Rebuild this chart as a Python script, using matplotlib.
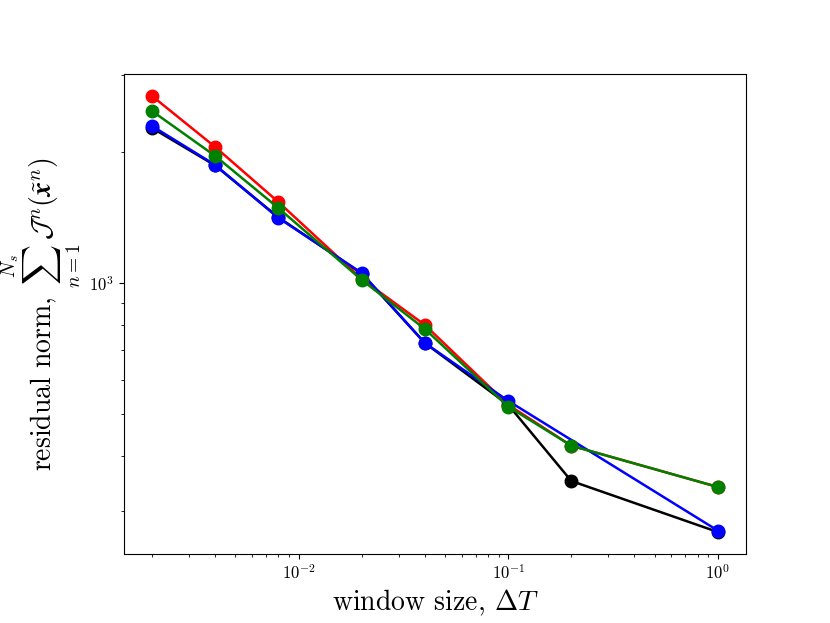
import numpy as np
import matplotlib
matplotlib.use('Agg')
import matplotlib.pyplot as plt

plt.rcParams['font.family'] = 'serif'
plt.rcParams['font.serif'] = ['cmr10']
plt.rcParams['mathtext.fontset'] = 'cm'
plt.rcParams['axes.formatter.use_mathtext'] = True

# window sizes and residual norms
dT_black = [0.002, 0.004, 0.008, 0.02, 0.04, 0.1, 0.2, 1.0]
res_black = [2267, 1860, 1415, 1050, 728, 525, 351, 268]

dT_red = [0.002, 0.004, 0.008, 0.02, 0.04, 0.1, 0.2, 1.0]
res_red = [2685, 2051, 1534, 1021, 801, 525, 423, 340]

dT_blue = [0.002, 0.004, 0.008, 0.02, 0.04, 0.1, 1.0]
res_blue = [2291, 1865, 1410, 1054, 728, 536, 270]

dT_green = [0.002, 0.004, 0.008, 0.02, 0.04, 0.1, 0.2, 1.0]
res_green = [2480, 1956, 1486, 1016, 784, 520, 423, 340]

fig = plt.figure(figsize=(8.3, 6.23), dpi=100)
ax = fig.add_axes([0.149, 0.111, 0.750, 0.770])

ax.loglog(dT_black, res_black, 'o-', color='k', lw=1.8, ms=9)
ax.loglog(dT_red, res_red, 'o-', color='r', lw=1.8, ms=9)
ax.loglog(dT_blue, res_blue, 'o-', color='b', lw=1.8, ms=9)
ax.loglog(dT_green, res_green, 'o-', color='g', lw=1.8, ms=9)

ax.set_xlabel(r'window size, $\Delta T$', fontsize=20)
ax.set_ylabel(r'residual norm, $\sum_{n{=}1}^{N_s}\,\mathcal{J}^n(\tilde{\boldsymbol{x}}^n)$', fontsize=20)
ax.tick_params(labelsize=12)
ax.tick_params(which='minor', labelleft=False)

fig.savefig('out.png', dpi=100)
